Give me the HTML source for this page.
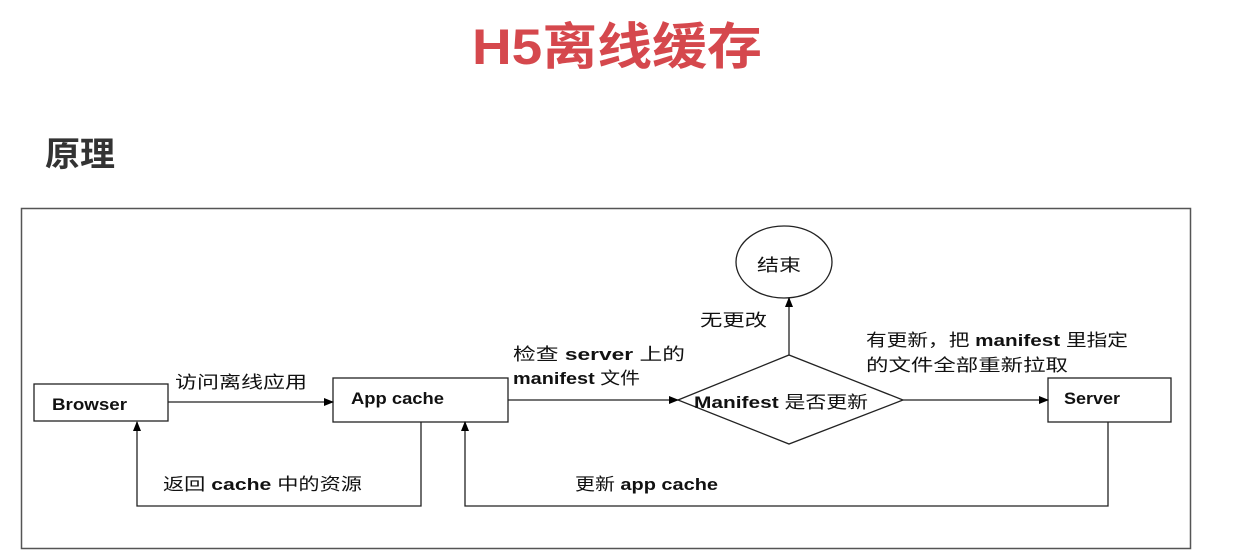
<!DOCTYPE html>
<html><head><meta charset="utf-8"><style>
html,body{margin:0;padding:0;background:#fff;}
svg{display:block}
</style></head><body>
<svg width="1260" height="560" xmlns="http://www.w3.org/2000/svg" font-family="'Liberation Sans','Noto Sans CJK SC',sans-serif">
<defs><marker id="a" markerWidth="10" markerHeight="8" refX="9" refY="4" orient="auto" markerUnits="userSpaceOnUse"><path d="M0,0 L10,4 L0,8 z" fill="#000"/></marker></defs>
<text x="472" y="64" font-size="50" font-weight="bold" fill="#d5484d" textLength="290" lengthAdjust="spacingAndGlyphs">H5离线缓存</text>
<text x="45" y="166" font-size="34" font-weight="bold" fill="#333" textLength="70" lengthAdjust="spacingAndGlyphs">原理</text>
<rect x="21.5" y="208.5" width="1169" height="340" fill="none" stroke="#555" stroke-width="1.5"/>
<g fill="none" stroke="#222" stroke-width="1.3">
<rect x="34" y="384" width="134" height="37"/>
<rect x="333" y="378" width="175" height="44"/>
<rect x="1048" y="378" width="123" height="44"/>
<ellipse cx="784" cy="262" rx="48" ry="36"/>
<polygon points="678,400 789,355 903,400 789,444"/>
<line x1="168" y1="402" x2="333" y2="402" marker-end="url(#a)"/>
<line x1="508" y1="400" x2="678" y2="400" marker-end="url(#a)"/>
<line x1="903" y1="400" x2="1048" y2="400" marker-end="url(#a)"/>
<line x1="789" y1="355" x2="789" y2="298" marker-end="url(#a)"/>
<polyline points="421,422 421,506 137,506 137,422" marker-end="url(#a)"/>
<polyline points="1108,422 1108,506 465,506 465,422" marker-end="url(#a)"/>
</g>
<g font-size="17" fill="#111" lengthAdjust="spacingAndGlyphs">
<text x="52" y="410" font-weight="bold" textLength="75" lengthAdjust="spacingAndGlyphs">Browser</text>
<text x="351" y="404" font-weight="bold" textLength="93" lengthAdjust="spacingAndGlyphs">App cache</text>
<text x="1064" y="404" font-weight="bold" textLength="56" lengthAdjust="spacingAndGlyphs">Server</text>
<text x="757" y="271" textLength="44" lengthAdjust="spacingAndGlyphs">结束</text>
<text x="694" y="408" textLength="174" lengthAdjust="spacingAndGlyphs"><tspan font-weight="bold">Manifest</tspan> 是否更新</text>
<text x="175" y="388" textLength="132" lengthAdjust="spacingAndGlyphs">访问离线应用</text>
<text x="513" y="360" textLength="172" lengthAdjust="spacingAndGlyphs">检查 <tspan font-weight="bold">server</tspan> 上的</text>
<text x="513" y="384" textLength="127" lengthAdjust="spacingAndGlyphs"><tspan font-weight="bold">manifest</tspan> 文件</text>
<text x="700" y="326" textLength="67" lengthAdjust="spacingAndGlyphs">无更改</text>
<text x="866" y="346" textLength="262" lengthAdjust="spacingAndGlyphs">有更新，把 <tspan font-weight="bold">manifest</tspan> 里指定</text>
<text x="866" y="371" textLength="202" lengthAdjust="spacingAndGlyphs">的文件全部重新拉取</text>
<text x="163" y="490" textLength="199" lengthAdjust="spacingAndGlyphs">返回 <tspan font-weight="bold">cache</tspan> 中的资源</text>
<text x="575" y="490" textLength="143" lengthAdjust="spacingAndGlyphs">更新 <tspan font-weight="bold">app cache</tspan></text>
</g>
</svg>
</body></html>
